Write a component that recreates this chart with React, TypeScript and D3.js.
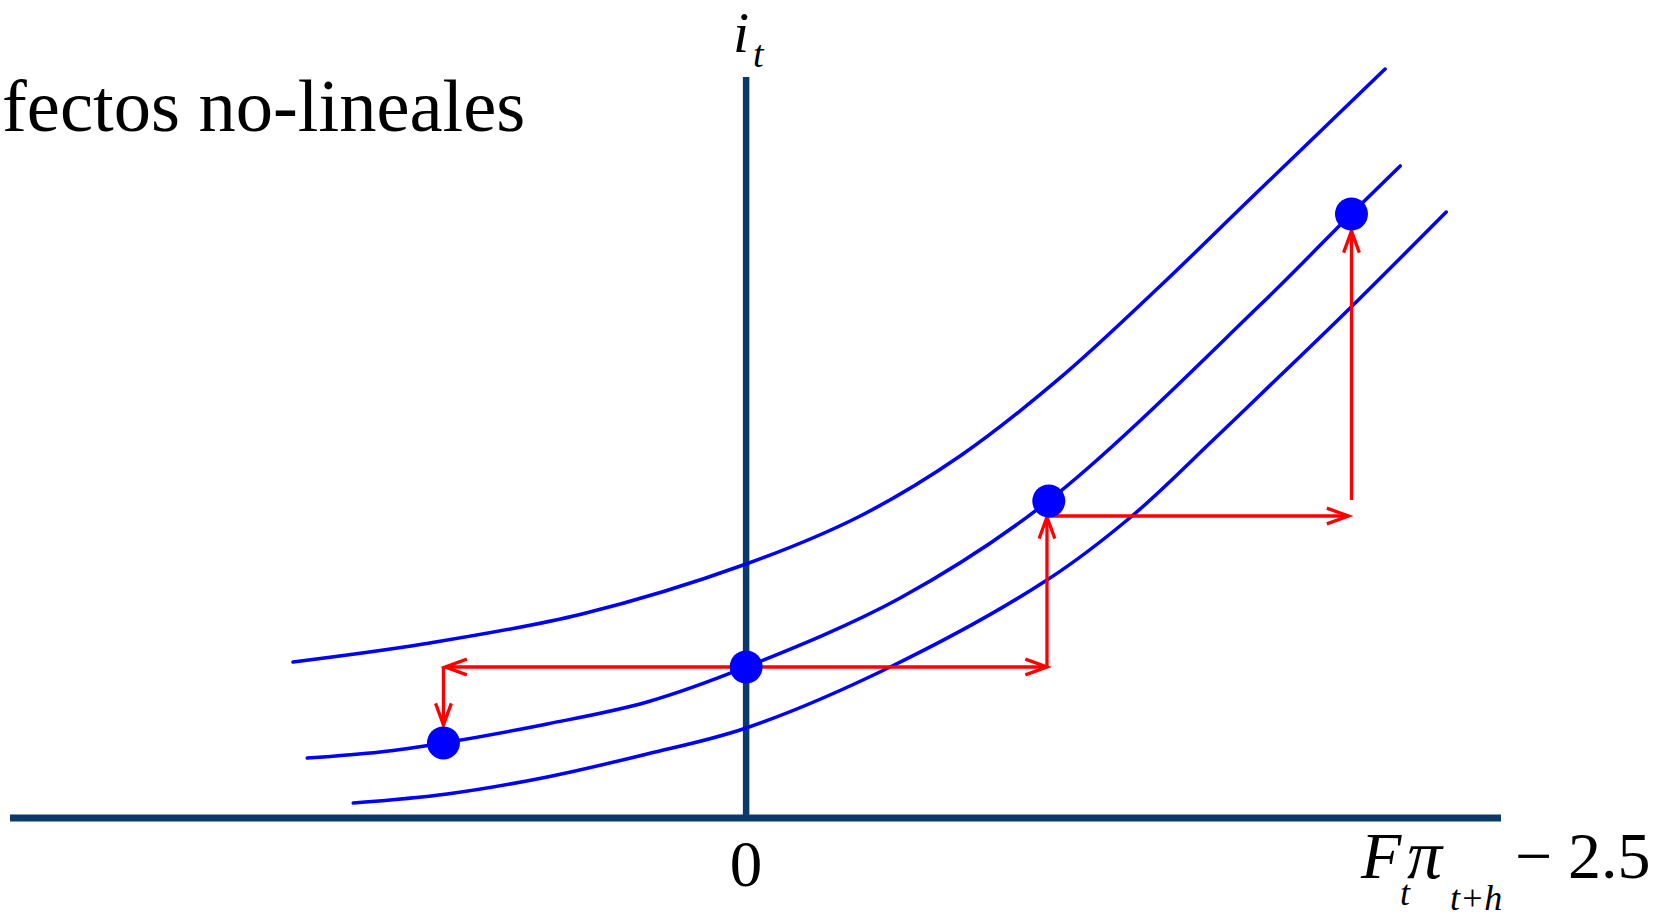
import React from "react";
import * as d3 from "d3";

const W = 1660;
const H = 918;

// Axis extents (data units)
const xExtent: [number, number] = [-2.432, 2.494];
const yExtent: [number, number] = [0, 4.907];

// Three curves (x, y) in data units
const upperCurve: [number, number][] = [
  [-1.497, 1.033], [-1.067, 1.152], [-0.542, 1.351], [0, 1.682], [0.377, 2.0],
  [0.707, 2.397], [1.037, 2.914], [1.368, 3.523], [1.665, 4.099], [2.111, 4.96],
];
const middleCurve: [number, number][] = [
  [-1.45, 0.397], [-1.209, 0.437], [-1.001, 0.497], [-0.657, 0.623], [-0.327, 0.768],
  [0, 1.0], [0.509, 1.457], [0.998, 2.099], [1.698, 3.397], [1.999, 4.0], [2.161, 4.318],
];
const lowerCurve: [number, number][] = [
  [-1.298, 0.099], [-0.988, 0.159], [-0.657, 0.272], [-0.327, 0.424], [0, 0.596],
  [0.476, 1.0], [0.994, 1.576], [1.275, 2.0], [1.543, 2.503], [1.698, 2.801],
  [1.999, 3.384], [2.313, 4.013],
];

// Highlighted points on the middle curve
const dotX = [-1, 0, 1, 2];
const dotY = [0.497, 1.0, 2.099, 4.0];

// Red arrows: [x1, y1, x2, y2], head at (x2, y2)
const arrows: [number, number, number, number][] = [
  [0, 1, -0.994, 1],
  [-1, 1, -1, 0.616],
  [0, 1, 0.994, 1],
  [0.994, 1, 0.994, 1.993],
  [0.994, 2.0, 1.99, 2.0],
  [2.0, 2.106, 2.0, 3.887],
];

const xTickValues = [0];
const xTickLabels = ["0"];

const SERIF = '"Liberation Serif", "DejaVu Serif", serif';
const AXIS = "#0a3a6b";

export default function App() {
  const x = d3.scaleLinear().domain(xExtent).range([10, 1501]);
  const y = d3.scaleLinear().domain(yExtent).range([818, 77]);
  const line = d3
    .line<[number, number]>()
    .x((d) => x(d[0]))
    .y((d) => y(d[1]))
    .curve(d3.curveCatmullRom.alpha(0.5));

  const head = (a: [number, number, number, number]) => {
    const x1 = x(a[0]), y1 = y(a[1]), x2 = x(a[2]), y2 = y(a[3]);
    const ang = Math.atan2(y2 - y1, x2 - x1);
    const L = 23, spread = (20 * Math.PI) / 180;
    const p1 = [x2 - L * Math.cos(ang - spread), y2 - L * Math.sin(ang - spread)];
    const p2 = [x2 - L * Math.cos(ang + spread), y2 - L * Math.sin(ang + spread)];
    return `M${p1[0]},${p1[1]}L${x2},${y2}L${p2[0]},${p2[1]}`;
  };

  const serif = { fontFamily: SERIF };

  return (
    <svg
      width={W}
      height={H}
      style={{ position: "absolute", left: 0, top: 0, background: "#fff" }}
    >
      <rect width={W} height={H} fill="#fff" />
      {/* title */}
      <text x={2} y={131} style={serif} fontSize={74.5} fill="#000">
        fectos no-lineales
      </text>

      {/* axes */}
      <line x1={x(0)} x2={x(0)} y1={y(yExtent[1])} y2={y(0)} stroke={AXIS} strokeWidth={6.5} />
      <line x1={x(xExtent[0])} x2={x(xExtent[1])} y1={y(0)} y2={y(0)} stroke={AXIS} strokeWidth={7} />

      {/* curves */}
      {[upperCurve, middleCurve, lowerCurve].map((c, i) => (
        <path
          key={i}
          d={line(c) || ""}
          fill="none"
          stroke="#0000ff"
          strokeWidth={3.5}
          strokeLinecap="round"
        />
      ))}

      {/* arrows */}
      {arrows.map((a, i) => (
        <g key={i} stroke="#ff0000" strokeWidth={3.3} fill="none">
          <line x1={x(a[0])} y1={y(a[1])} x2={x(a[2])} y2={y(a[3])} />
          <path d={head(a)} />
        </g>
      ))}

      {/* dots */}
      {dotX.map((d, i) => (
        <circle key={i} cx={x(d)} cy={y(dotY[i])} r={16.5} fill="#0000ff" />
      ))}

      {/* tick label */}
      {xTickValues.map((v, i) => (
        <text
          key={i}
          x={x(v)}
          y={886}
          textAnchor="middle"
          style={serif}
          fontSize={65}
          fill="#000"
        >
          {xTickLabels[i]}
        </text>
      ))}

      {/* y-axis label i_t */}
      <text x={733} y={52} style={serif} fontSize={58} fontStyle="italic" fill="#000">
        i
      </text>
      <text x={753} y={67} style={serif} fontSize={38} fontStyle="italic" fill="#000">
        t
      </text>

      {/* x-axis label F_t π_{t+h} − 2.5 */}
      <g style={serif} fill="#000">
        <text x={1361} y={878} fontSize={66} fontStyle="italic">F</text>
        <text x={1400} y={905} fontSize={36} fontStyle="italic">t</text>
        <text x={1407} y={878} fontSize={70} fontStyle="italic">π</text>
        <text x={1450} y={910} fontSize={36} fontStyle="italic">t+h</text>
        <text x={1515} y={878} fontSize={66}>−</text>
        <text x={1568} y={878} fontSize={66}>2.5</text>
      </g>
    </svg>
  );
}
